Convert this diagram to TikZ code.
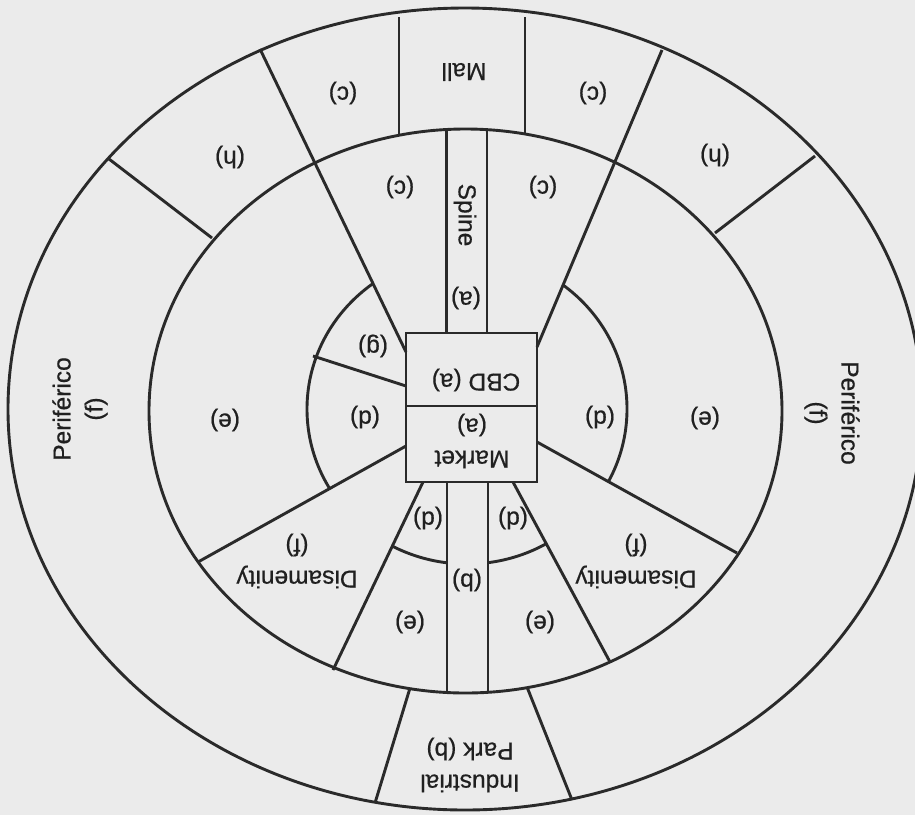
\documentclass[tikz,border=0pt]{standalone}
\usepackage{fontspec}
\setmainfont{Liberation Sans}
\newfontfamily\lblfont{Liberation Sans}[FakeBold=0.6]
\definecolor{bgc}{RGB}{235,235,235}
\definecolor{linec}{RGB}{42,42,42}
\definecolor{txtc}{RGB}{32,32,32}
\begin{document}
\begin{tikzpicture}[x=1pt,y=-1pt,
  ln/.style={line width=2.9pt, draw=linec},
  lbl/.style={font=\lblfont\fontsize{24.5}{32}\selectfont, text=txtc, inner sep=0pt, align=center},
  ud/.style={lbl, rotate=180}]
\useasboundingbox (0,0) rectangle (915,815);
\fill[bgc] (0,0) rectangle (915,815);
% rings
\draw[ln] (465,409) ellipse[x radius=457, y radius=401];
\draw[ln] (465.5,411) ellipse[x radius=316.5, y radius=282];
% inner (d) arcs, shown only between the spokes
\begin{scope}
\clip (406,352) -- (313,163) -- (100,163) -- (100,600) -- (198,562) -- (406,446) -- cycle
      (423,482) -- (333,670) -- (447,700) -- (447,482) -- cycle
      (488,482) -- (488,700) -- (610,662) -- (513,482) -- cycle
      (537,347) -- (615,163) -- (850,163) -- (850,600) -- (737,553) -- (537,442) -- cycle;
\draw[ln] (467,409) ellipse[x radius=160, y radius=155];
\end{scope}
% central box
\coordinate (bxTL) at (406,333);
\coordinate (bxBR) at (537,482);
\draw[ln] (bxTL) rectangle (bxBR);
\draw[ln] (406,406) -- (537,406);
% spine
\draw[ln] (446.5,333) -- (446.5,129);
\draw[ln] (487,333) -- (487,129);
\draw[ln] (447,482) -- (447,693);
\draw[ln] (488,482) -- (488,693);
% mall
\draw[ln] (399,17) -- (399,135);
\draw[ln] (525,17) -- (525,134);
% industrial park
\draw[ln] (410,688) -- (375,803);
\draw[ln] (527,687) -- (572,800);
% spokes
\draw[ln] (406,352) -- (260,49);
\draw[ln] (537,347) -- (662,50);
\draw[ln] (406,386) -- (313,356);
\draw[ln] (406,446) -- (198,562);
\draw[ln] (537,442) -- (737,553);
\draw[ln] (423,482) -- (333,670);
\draw[ln] (513,482) -- (610,662);
\draw[ln] (212,238) -- (109,159);
\draw[ln] (715,233) -- (815,156);
% labels
\node[ud] (mall) at (464,72) {Mall};
\node[ud] (c1) at (343,93) {(c)};
\node[ud] (c2) at (593,93) {(c)};
\node[ud] (h1) at (230,157) {(h)};
\node[ud] (h2) at (715,155) {(h)};
\node[ud] (c3) at (400,187) {(c)};
\node[ud] (c4) at (543,187) {(c)};
\node[lbl, rotate=-90] (spine) at (465,215) {Spine};
\node[ud] (a1) at (466,298) {(a)};
\node[ud] (gz) at (373,346) {(g)};
\node[ud] (cbd) at (476,380) {CBD (a)};
\node[ud] (market) at (472,441) {Market\\(a)};
\node[ud] (d1) at (365,417) {(d)};
\node[ud] (d2) at (600,417) {(d)};
\node[ud] (e1) at (225,420) {(e)};
\node[ud] (e2) at (705,418) {(e)};
\node[ud] (d3) at (428,518) {(d)};
\node[ud] (d4) at (513,518) {(d)};
\node[ud] (b1) at (467,580) {(b)};
\node[ud] (e3) at (410,622) {(e)};
\node[ud] (e4) at (540,622) {(e)};
\node[ud] (dis1) at (297,561) {Disamenity\\(f)};
\node[ud] (dis2) at (636,561) {Disamenity\\(f)};
\node[lbl, rotate=90] (per1) at (80,409) {Periférico\\(f)};
\node[lbl, rotate=-90] (per2) at (832,413) {Periférico\\(f)};
\node[ud] (ind) at (470,765) {Industrial\\Park (b)};
\end{tikzpicture}
\end{document}
